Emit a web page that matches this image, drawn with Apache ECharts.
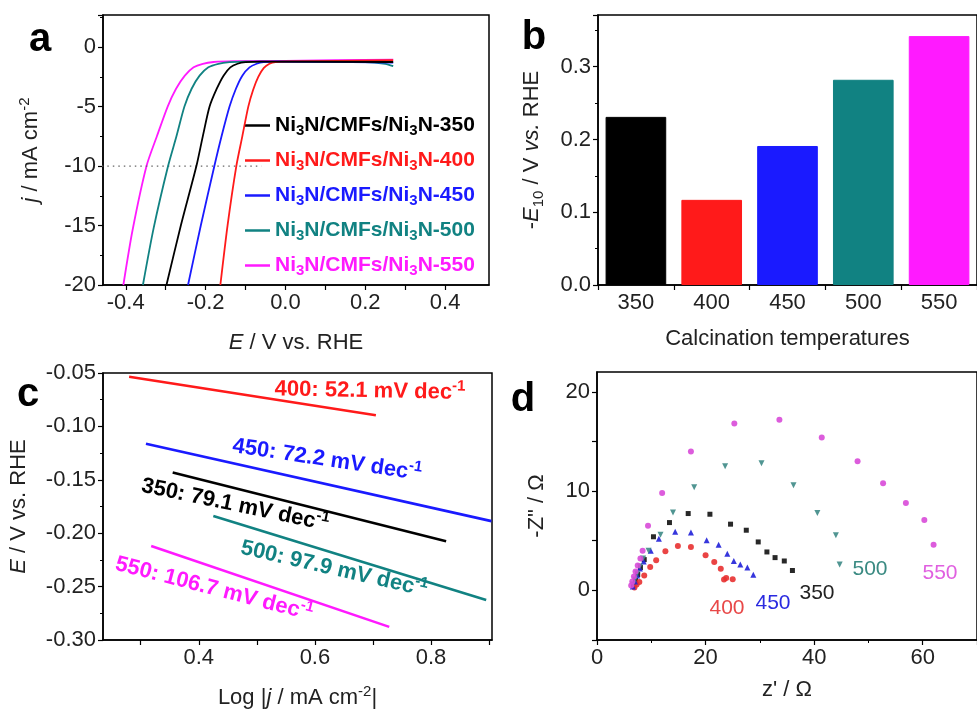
<!DOCTYPE html>
<html>
<head>
<meta charset="utf-8">
<script src="https://cdn.jsdelivr.net/npm/echarts@6/dist/echarts.min.js"></script>
<style>
  body { margin: 0; background: #fff; }
  #main { width: 977px; height: 711px; }
</style>
</head>
<body>
<div id="main"></div>
<script>
// ---- data ----
var temps = ['350', '400', '450', '500', '550'];
var colors = ['#000000', '#ff1a1a', '#1a1aff', '#118282', '#ff1aff'];

// (a) LSV curves [E, j]
var lsv350 = [[-0.298, -20], [-0.262, -15], [-0.223, -10], [-0.207, -7.5], [-0.19, -5], [-0.172, -3.5], [-0.155, -2.4], [-0.138, -1.7], [-0.12, -1.4], [-0.1, -1.27], [-0.06, -1.22], [0.27, -1.25]];
var lsv400 = [[-0.163, -20], [-0.145, -15], [-0.123, -10], [-0.108, -7.5], [-0.093, -5], [-0.081, -3.6], [-0.068, -2.5], [-0.054, -1.75], [-0.04, -1.4], [-0.025, -1.25], [0.01, -1.2], [0.27, -1.1]];
var lsv450 = [[-0.244, -20], [-0.212, -15], [-0.178, -10], [-0.16, -7.5], [-0.14, -5], [-0.124, -3.5], [-0.108, -2.4], [-0.09, -1.7], [-0.072, -1.4], [-0.055, -1.27], [-0.02, -1.22], [0.27, -1.3]];
var lsv500 = [[-0.357, -20], [-0.33, -15.2], [-0.294, -10], [-0.273, -7.5], [-0.253, -5], [-0.235, -3.5], [-0.215, -2.4], [-0.193, -1.7], [-0.168, -1.4], [-0.14, -1.27], [-0.1, -1.22], [0.2, -1.25], [0.25, -1.4], [0.27, -1.6]];
var lsv550 = [[-0.406, -20], [-0.383, -15.4], [-0.348, -10], [-0.322, -7.5], [-0.295, -5], [-0.274, -3.5], [-0.252, -2.4], [-0.23, -1.7], [-0.207, -1.4], [-0.18, -1.25], [-0.13, -1.18], [0, -1.15], [0.27, -1.05]];
var refLine = [[-0.46, -10], [-0.06, -10]];

// (b) -E10
var e10 = [0.231, 0.117, 0.191, 0.282, 0.342];

// (c) Tafel lines [log j, E]
var tafel350 = [[0.355, -0.1431], [0.826, -0.2075]];
var tafel400 = [[0.28, -0.0535], [0.705, -0.0896]];
var tafel450 = [[0.309, -0.1163], [0.904, -0.1887]];
var tafel500 = [[0.425, -0.184], [0.895, -0.2626]];
var tafel550 = [[0.318, -0.212], [0.728, -0.2877]];
var tafelText = ['350: 79.1 mV dec', '400: 52.1 mV dec', '450: 72.2 mV dec', '500: 97.9 mV dec', '550: 106.7 mV dec'];

// (d) Nyquist [Z', -Z'']
var eis350 = [[6.7, 0.5], [7.1, 1.0], [7.5, 1.6], [8.0, 2.3], [8.7, 3.1], [10.4, 5.4], [13.35, 6.83], [16.8, 7.74], [20.8, 7.67], [24.6, 6.67], [27.5, 6.06], [29.7, 4.88], [31.3, 3.87], [32.8, 3.3], [34.5, 2.96], [36.0, 2.0]];
var eis400 = [[6.9, 0.3], [7.3, 0.6], [7.8, 0.84], [8.7, 1.5], [9.8, 2.36], [10.9, 3.03], [12.6, 3.94], [14.9, 4.48], [17.3, 4.38], [20.0, 3.54], [21.6, 2.86], [22.8, 2.19], [23.4, 1.1], [23.8, 1.24], [25.0, 1.11]];
var eis450 = [[6.6, 0.4], [7.0, 0.9], [7.4, 1.5], [7.9, 2.2], [8.6, 2.9], [9.9, 4.0], [11.4, 5.2], [14.4, 5.9], [17.3, 5.83], [20.2, 5.05], [22.4, 4.6], [24.0, 3.7], [25.2, 2.96], [26.4, 2.6], [27.7, 2.3], [28.8, 1.58]];
var eis500 = [[6.6, 0.6], [7.0, 1.1], [7.4, 1.7], [7.9, 2.4], [8.5, 3.2], [9.5, 4.0], [11.7, 5.6], [14.0, 7.85], [17.9, 10.4], [23.6, 12.5], [30.3, 12.8], [36.2, 10.6], [40.6, 7.8], [44.0, 5.56], [44.7, 2.6]];
var eis550 = [[6.3, 0.5], [6.5, 0.9], [6.8, 1.4], [7.1, 1.9], [7.5, 2.5], [8.0, 3.2], [8.4, 4.0], [9.4, 6.5], [12.0, 9.8], [17.3, 14.0], [25.3, 16.8], [33.6, 17.2], [41.4, 15.4], [48.0, 13.0], [52.7, 10.8], [56.9, 8.8], [60.3, 7.1], [62.0, 4.6]];

// ---- helpers ----
var FONT = '"Liberation Sans", Arial, sans-serif';
var rich = {
  n: { fontSize: 22, fontFamily: FONT, color: '#222', lineHeight: 28 },
  i: { fontSize: 22, fontFamily: FONT, color: '#222', fontStyle: 'italic', lineHeight: 28 },
  p: { fontSize: 15, fontFamily: FONT, color: '#222', verticalAlign: 'top', lineHeight: 15 },
  s: { fontSize: 15, fontFamily: FONT, color: '#222', verticalAlign: 'bottom', lineHeight: 15 }
};

function valAxis(idx, o) {
  var ax = {
    type: 'value', gridIndex: idx, scale: false,
    axisLine: { show: true, onZero: false, lineStyle: { color: '#000', width: 1.5 } },
    axisTick: { show: true, inside: false, length: 5, lineStyle: { color: '#000', width: 1.2 } },
    minorTick: { show: false },
    splitLine: { show: false },
    axisLabel: { fontSize: 22, fontFamily: FONT, color: '#222', margin: 7, showMaxLabel: false },
    nameLocation: 'middle',
    nameTextStyle: { rich: rich }
  };
  for (var k in o) {
    if (typeof o[k] === 'object' && ax[k] && !Array.isArray(o[k])) {
      for (var kk in o[k]) ax[k][kk] = o[k][kk];
    } else ax[k] = o[k];
  }
  return ax;
}

var lsvList = [lsv350, lsv400, lsv450, lsv500, lsv550];
var tafelList = [tafel350, tafel400, tafel450, tafel500, tafel550];
var eisList = [eis350, eis400, eis450, eis500, eis550];
var eisSymbols = ['rect', 'circle', 'triangle', 'triangle', 'circle'];
var eisRot = [0, 0, 0, 180, 0];
var eisColors = ['#111111', '#e83030', '#2020d8', '#3d8a86', '#d84ad8'];

var legendRich = {
  t: { fontSize: 21, fontWeight: 'bold', fontFamily: FONT, lineHeight: 26, verticalAlign: 'middle' },
  s: { fontSize: 15, fontWeight: 'bold', fontFamily: FONT, lineHeight: 15, verticalAlign: 'bottom' }
};

var series = [];
var legendData = [];
temps.forEach(function (t, k) {
  var name = 'Ni3N/CMFs/Ni3N-' + t;
  legendData.push({ name: name, icon: 'rect', textStyle: { color: colors[k], rich: legendRich } });
  series.push({
    name: name, type: 'line', xAxisIndex: 0, yAxisIndex: 0,
    data: lsvList[k], symbol: 'none', smooth: 0.25,
    lineStyle: { color: colors[k], width: 1.8 }, itemStyle: { color: colors[k] }, z: 5 - k
  });
  series.push({
    type: 'line', xAxisIndex: 2, yAxisIndex: 2, data: tafelList[k], symbol: 'none',
    lineStyle: { color: colors[k], width: 2.6 }
  });
  series.push({
    type: 'scatter', xAxisIndex: 3, yAxisIndex: 3, data: eisList[k],
    symbol: eisSymbols[k], symbolRotate: eisRot[k], symbolSize: k === 0 ? 5 : 6,
    itemStyle: { color: eisColors[k], opacity: 0.9 }
  });
});
series.push({
  type: 'line', xAxisIndex: 0, yAxisIndex: 0, data: refLine, symbol: 'none',
  lineStyle: { color: '#666', width: 1.2, type: [1.5, 4] }, z: 1
});
series.push({
  type: 'bar', xAxisIndex: 1, yAxisIndex: 1, barWidth: '80%',
  data: e10.map(function (v, k) {
    return { value: v, itemStyle: { color: colors[k], borderColor: colors[k], borderWidth: 1 } };
  })
});

var graphics = [];
['a', 'b', 'c', 'd'].forEach(function (l, k) {
  var pos = [[40, 40], [534, 38], [28, 395], [523, 400]][k];
  graphics.push({ type: 'text', x: pos[0], y: pos[1],
    style: { text: l, font: 'bold 40px ' + FONT, fill: '#000', align: 'center', verticalAlign: 'middle' } });
});
// tafel annotations
var tafelPos = [[235, 505, 0.205], [370, 391, 0.02], [327, 460, 0.148], [334, 569, 0.226], [214, 589, 0.253]];
tafelText.forEach(function (txt, k) {
  graphics.push({ type: 'text', x: tafelPos[k][0], y: tafelPos[k][1], rotation: -tafelPos[k][2],
    style: {
      text: '{m|' + txt + '}{u|-1}', align: 'center', verticalAlign: 'middle', fill: colors[k],
      rich: {
        m: { font: 'bold 22px ' + FONT, lineHeight: 28, verticalAlign: 'middle' },
        u: { font: 'bold 15px ' + FONT, lineHeight: 15, verticalAlign: 'top' }
      }
    } });
});
// nyquist labels
var eisLabelPos = [[817, 593], [727, 608], [773, 603], [870, 569], [940, 573]];
var eisLabelColors = ['#222222', '#e84848', '#2a2ae0', '#3a8a82', '#e060e0'];
temps.forEach(function (t, k) {
  graphics.push({ type: 'text', x: eisLabelPos[k][0], y: eisLabelPos[k][1],
    style: { text: t, font: '21px ' + FONT, fill: eisLabelColors[k], align: 'center', verticalAlign: 'middle' } });
});

var gridStyle = { show: true, borderColor: '#000', borderWidth: 1.5, backgroundColor: 'transparent' };
function g(l, t, w, h) {
  return Object.assign({ left: l, top: t, width: w, height: h, containLabel: false }, gridStyle);
}

var option = {
  animation: false,
  backgroundColor: '#fff',
  textStyle: { fontFamily: FONT },
  grid: [g(103, 15, 386, 270), g(598, 15, 384, 270), g(103, 373, 389, 267), g(597, 372, 386, 268)],
  legend: {
    orient: 'vertical', left: 240, top: 110, itemWidth: 25, itemHeight: 2.5, itemGap: 11.5,
    selectedMode: false, data: legendData,
    textStyle: { rich: legendRich },
    formatter: function (name) {
      var t = name.split('-')[1];
      return '{t|Ni}{s|3}{t|N/CMFs/Ni}{s|3}{t|N-' + t + '}';
    }
  },
  xAxis: [
    valAxis(0, {
      min: -0.457, max: 0.51,
      axisLabel: { showMaxLabel: true, customValues: [-0.4, -0.2, 0, 0.2, 0.4], formatter: function (v) { return v.toFixed(1); } },
      axisTick: { customValues: [-0.4, -0.3, -0.2, -0.1, 0, 0.1, 0.2, 0.3, 0.4] },
      name: '{i|E}{n| / V vs. RHE}', nameGap: 44
    }),
    {
      type: 'category', gridIndex: 1, data: temps, boundaryGap: true,
      axisLine: { lineStyle: { color: '#000', width: 1.5 } },
      axisTick: { show: true, length: 5, lineStyle: { color: '#000', width: 1.2 } },
      axisLabel: { fontSize: 22, fontFamily: FONT, color: '#222', margin: 7 },
      name: '{n|Calcination temperatures}', nameLocation: 'middle', nameGap: 40,
      nameTextStyle: { rich: rich }
    },
    valAxis(2, {
      min: 0.235, max: 0.905,
      axisLabel: { showMaxLabel: true, customValues: [0.4, 0.6, 0.8], formatter: function (v) { return v.toFixed(1); } },
      axisTick: { customValues: [0.3, 0.4, 0.5, 0.6, 0.7, 0.8, 0.9] },
      name: '{n|Log |}{i|j}{n| / mA cm}{p|-2}{n||}', nameGap: 44
    }),
    valAxis(3, {
      min: 0, max: 70, interval: 20,
      minorTick: { show: true, splitNumber: 2, length: 3, lineStyle: { color: '#000' } },
      name: '{n|z\' / Ω}', nameGap: 36
    })
  ],
  yAxis: [
    valAxis(0, {
      min: -20, max: 2.7, interval: 5,
      minorTick: { show: true, splitNumber: 2, length: 3, lineStyle: { color: '#000' } },
      name: '{i|j}{n| / mA cm}{p|-2}', nameGap: 58
    }),
    valAxis(1, {
      min: 0, max: 0.371, interval: 0.1,
      minorTick: { show: true, splitNumber: 2, length: 3, lineStyle: { color: '#000' } },
      axisLabel: { formatter: function (v) { return v.toFixed(1); } },
      name: '{n|-}{i|E}{s|10}{n| / V }{i|vs.}{n| RHE}', nameGap: 52
    }),
    valAxis(2, {
      min: -0.30, max: -0.05, interval: 0.05,
      minorTick: { show: true, splitNumber: 2, length: 3, lineStyle: { color: '#000' } },
      axisLabel: { showMaxLabel: true, formatter: function (v) { return v.toFixed(2); } },
      name: '{i|E}{n| / V vs. RHE}', nameGap: 70
    }),
    valAxis(3, {
      min: -5, max: 22, interval: 5,
      axisLabel: { formatter: function (v) { return (Math.abs(v % 10) < 1e-9) ? String(v) : ''; } },
      name: '{n|-Z" / Ω}', nameGap: 46
    })
  ],
  graphic: graphics,
  series: series
};

var myChart = echarts.init(document.getElementById('main'));
myChart.setOption(option);
</script>
</body>
</html>
